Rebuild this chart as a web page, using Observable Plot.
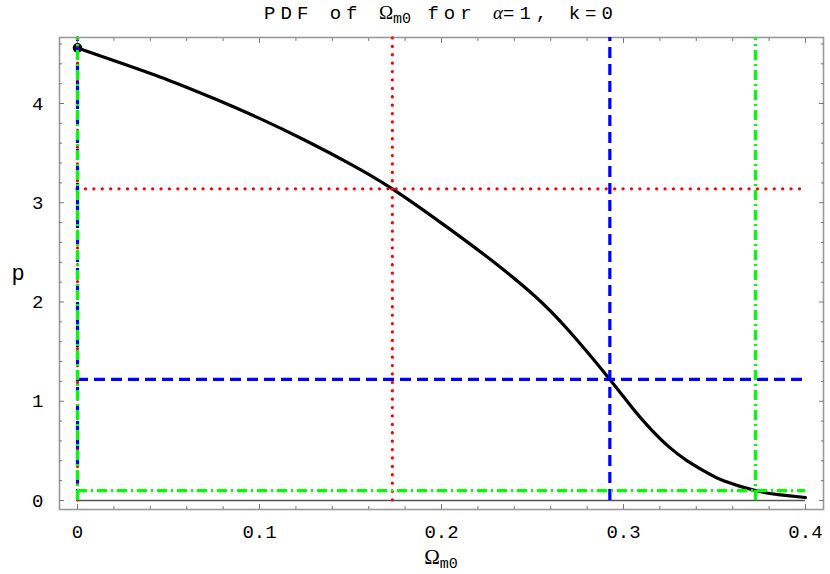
<!DOCTYPE html>
<html><head><meta charset="utf-8">
<script src="https://cdn.jsdelivr.net/npm/d3@7"></script>
<script src="https://cdn.jsdelivr.net/npm/@observablehq/plot@0.6"></script>
<style>
body{margin:0;background:#fff}
#wrap{position:relative;width:830px;height:574px;overflow:hidden}
.ttl{position:absolute;left:0;top:3px;width:830px;padding-left:52px;box-sizing:border-box;text-align:center;font-family:"Liberation Mono",monospace;font-size:19px;line-height:19px;letter-spacing:5px;color:#000;white-space:nowrap}
.xl{position:absolute;left:0;top:548px;width:830px;text-align:center;font-size:19px;line-height:19px;color:#000;padding-left:52px;box-sizing:border-box}
.ser{font-family:"Liberation Serif",serif;letter-spacing:0}
.sub{font-family:"Liberation Mono",monospace;font-size:15px;position:relative;top:4px;letter-spacing:0}
</style></head><body><div id="wrap"></div>
<script>
// PDF curve
const omega = [0, 0.025, 0.05, 0.075, 0.1, 0.125, 0.15, 0.173, 0.2, 0.225, 0.25, 0.27, 0.2925, 0.305, 0.315, 0.325, 0.335, 0.345, 0.355, 0.3725, 0.385, 0.4];
const pdf   = [4.56, 4.40, 4.235, 4.05, 3.85, 3.63, 3.39, 3.14, 2.795, 2.455, 2.08, 1.71, 1.22, 0.93, 0.72, 0.54, 0.40, 0.29, 0.20, 0.10, 0.06, 0.03];
// confidence cut levels
const cutNames = ["red", "blue", "green"];
const cutOmega = [0.173, 0.2925, 0.3725];
const cutP = [3.14, 1.22, 0.10];
const cutColors = ["#ff0000", "#0000ff", "#00ff00"];
const cutDash = ["0.1,8.3", "11,6", "10,4,2,4"];
const cutCap = ["round", "butt", "butt"];
// ticks
const xMajor = [0, 0.1, 0.2, 0.3, 0.4];
const xTickLabels = ["0", "0.1", "0.2", "0.3", "0.4"];
const xMinor = [0.02, 0.04, 0.06, 0.08, 0.12, 0.14, 0.16, 0.18, 0.22, 0.24, 0.26, 0.28, 0.32, 0.34, 0.36, 0.38];
const yMajor = [0, 1, 2, 3, 4];
const yTickLabels = ["0", "1", "2", "3", "4"];
const yMinor = [0.2, 0.4, 0.6, 0.8, 1.2, 1.4, 1.6, 1.8, 2.2, 2.4, 2.6, 2.8, 3.2, 3.4, 3.6, 3.8, 4.2, 4.4, 4.6];
const xDomain = [-0.0099, 0.4099];
const yDomain = [-0.0907, 4.665];

const curve = omega.map((x, i) => ({x, p: pdf[i]}));
const xMax = omega[omega.length - 1];
const tickStroke = "#777";

const marks = [
  Plot.frame({stroke: "#999", strokeWidth: 1.6}),
  Plot.ruleY([0], {x1: 0, x2: xMax, stroke: "#555", strokeWidth: 1.3}),
  Plot.line(curve, {x: "x", y: "p", stroke: "black", strokeWidth: 3.2, curve: "natural"}),
  Plot.dot([curve[0]], {x: "x", y: "p", r: 4.8, fill: "black"})
];
cutNames.forEach((n, i) => {
  const st = {stroke: cutColors[i], strokeWidth: 3.2, strokeDasharray: cutDash[i], strokeLinecap: cutCap[i]};
  marks.push(Plot.ruleX([0, cutOmega[i]], {x: d => d, y1: 0, y2: yDomain[1], ...st}));
  marks.push(Plot.ruleY([cutP[i]], {y: d => d, x1: 0, x2: xMax, ...st}));
});
for (const anchor of ["bottom", "top"]) {
  marks.push(Plot.axisX(xMajor, {anchor, tickSize: -5, tickFormat: () => "", label: null, stroke: tickStroke}));
  marks.push(Plot.axisX(xMinor, {anchor, tickSize: -3, tickFormat: () => "", label: null, stroke: tickStroke}));
}
for (const anchor of ["left", "right"]) {
  marks.push(Plot.axisY(yMajor, {anchor, tickSize: -5, tickFormat: () => "", label: null, stroke: tickStroke}));
  marks.push(Plot.axisY(yMinor, {anchor, tickSize: -3, tickFormat: () => "", label: null, stroke: tickStroke}));
}
marks.push(Plot.axisX(xMajor, {anchor: "bottom", tickSize: 0, tickPadding: 15, label: null, tickFormat: d => xTickLabels[xMajor.indexOf(d)]}));
marks.push(Plot.axisY(yMajor, {anchor: "left", tickSize: 0, tickPadding: 16, label: null, tickFormat: d => yTickLabels[yMajor.indexOf(d)]}));
marks.push(Plot.text(["p"], {frameAnchor: "left", dx: -48, dy: -1, fontSize: 22, fill: "black"}));

const chart = Plot.plot({
  width: 830,
  height: 574,
  marginLeft: 59,
  marginRight: 7,
  marginTop: 37,
  marginBottom: 65,
  x: {domain: xDomain},
  y: {domain: yDomain},
  style: {fontFamily: "'Liberation Mono', monospace", fontSize: "19px", color: "black", background: "white"},
  marks
});
const wrap = document.getElementById("wrap");
wrap.appendChild(chart);
const t = document.createElement("div");
t.className = "ttl";
t.innerHTML = 'PDF of <span class="ser">Ω</span><span class="sub">m0</span> for <span class="ser" style="font-style:italic">α</span>=1, k=0';
wrap.appendChild(t);
const xl = document.createElement("div");
xl.className = "xl";
xl.innerHTML = '<span class="ser" style="font-size:21px">Ω</span><span class="sub">m0</span>';
wrap.appendChild(xl);
</script>
</body></html>
